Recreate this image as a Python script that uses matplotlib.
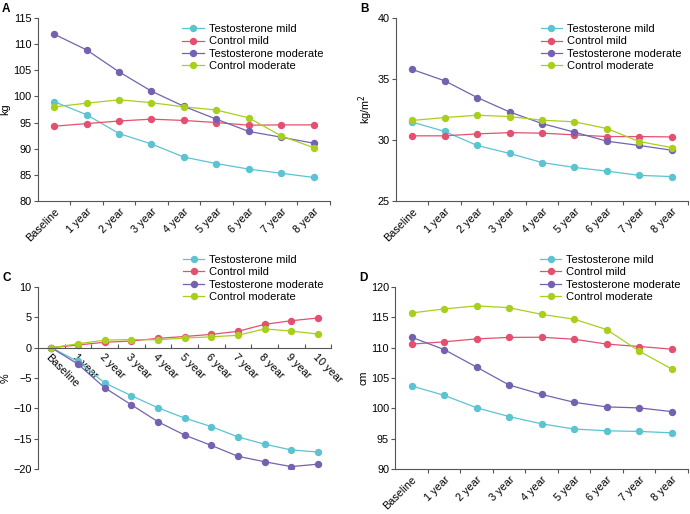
import numpy as np
import matplotlib
matplotlib.use("Agg")
import matplotlib.pyplot as plt

plt.rcParams['font.family'] = ['Liberation Sans', 'DejaVu Sans']

years8 = ["Baseline", "1 year", "2 year", "3 year", "4 year", "5 year", "6 year", "7 year", "8 year"]
years10 = ["Baseline"] + ["%d year" % i for i in range(1, 11)]
series = ["Testosterone mild", "Control mild", "Testosterone moderate", "Control moderate"]
colors = ["#5cc3d2", "#e4506f", "#7462b0", "#a9cf1d"]

# A: weight, kg
a_tmild = [99.0, 96.5, 92.9, 90.9, 88.4, 87.15, 86.1, 85.3, 84.5]
a_cmild = [94.3, 94.8, 95.3, 95.65, 95.4, 95.0, 94.5, 94.55, 94.55]
a_tmod = [111.9, 108.9, 104.7, 101.0, 98.1, 95.65, 93.3, 92.2, 91.05]
a_cmod = [98.0, 98.7, 99.35, 98.8, 98.0, 97.4, 95.9, 92.45, 90.2]

# B: BMI, kg/m2
b_tmild = [31.46, 30.7, 29.55, 28.9, 28.15, 27.75, 27.45, 27.1, 27.0]
b_cmild = [30.34, 30.34, 30.5, 30.6, 30.56, 30.42, 30.28, 30.28, 30.25]
b_tmod = [35.78, 34.85, 33.48, 32.3, 31.35, 30.64, 29.9, 29.55, 29.16]
b_cmod = [31.6, 31.84, 32.03, 31.92, 31.62, 31.49, 30.94, 29.87, 29.38]

# C: change in weight, %
c_tmild = [0, -2.25, -5.8, -7.9, -9.9, -11.6, -13.0, -14.7, -15.9, -16.85, -17.2]
c_cmild = [0, 0.45, 0.9, 1.1, 1.55, 1.85, 2.2, 2.7, 3.85, 4.45, 4.9]
c_tmod = [0, -2.7, -6.6, -9.4, -12.2, -14.4, -16.1, -17.9, -18.8, -19.6, -19.2]
c_cmod = [0, 0.65, 1.25, 1.35, 1.3, 1.6, 1.8, 2.05, 3.1, 2.75, 2.25]

# D: waist, cm
d_tmild = [103.7, 102.15, 100.1, 98.65, 97.45, 96.6, 96.3, 96.2, 95.97]
d_cmild = [110.6, 110.97, 111.46, 111.7, 111.73, 111.4, 110.6, 110.2, 109.77]
d_tmod = [111.73, 109.7, 106.8, 103.85, 102.3, 101.0, 100.24, 100.08, 99.47]
d_cmod = [115.73, 116.4, 116.9, 116.6, 115.5, 114.7, 113.0, 109.44, 106.5]

fs = 7.8
lfs = 8.0
spine_c = "#555555"

fig = plt.figure(figsize=(6.9, 5.14), dpi=100)


def panel(rect, cats, data, ylim, yticks, ylabel, letter, legend_y, zero_axis=False):
    ax = fig.add_axes(rect)
    x = np.arange(len(cats))
    for vals, c, name in zip(data, colors, series):
        ax.plot(x, vals, color=c, lw=0.9, marker='o', ms=4.3, label=name)
    ax.set_xlim(-0.5, len(cats) - 0.5)
    ax.set_ylim(*ylim)
    ax.set_yticks(yticks)
    ax.set_xticks(x)
    ax.set_xticks(np.arange(len(cats)) + 0.5, minor=True)
    ax.spines['top'].set_visible(False)
    ax.spines['right'].set_visible(False)
    for s in ('left', 'bottom'):
        ax.spines[s].set_color(spine_c)
        ax.spines[s].set_linewidth(0.8)
    ax.tick_params(axis='y', labelsize=fs, length=3, width=0.8, color=spine_c, pad=1.5)
    ax.tick_params(axis='x', which='major', length=0, labelsize=fs)
    if zero_axis:
        ax.spines['bottom'].set_position(('data', 0))
        ax.tick_params(axis='x', which='minor', direction='in', length=3, width=0.8, color=spine_c)
        ax.set_xticklabels(cats, rotation=-45, ha='left', va='top', rotation_mode='anchor')
        ax.tick_params(axis='x', which='major', pad=3)
    else:
        ax.tick_params(axis='x', which='minor', direction='out', length=3, width=0.8, color=spine_c)
        ax.set_xticklabels(cats, rotation=45, ha='right', va='top', rotation_mode='anchor')
        ax.tick_params(axis='x', which='major', pad=4)
    ax.set_ylabel(ylabel, fontsize=fs, labelpad=2)
    ax.legend(loc='upper left', bbox_to_anchor=(0.48, legend_y), frameon=False,
              fontsize=lfs, handlelength=1.9, handletextpad=0.45, labelspacing=0.2,
              borderaxespad=0, borderpad=0.4)
    fig.text(rect[0] - 0.052, rect[1] + rect[3] + 0.006, letter, fontsize=8.5,
             fontweight='bold', va='bottom')
    return ax


panel([0.055, 0.609, 0.423, 0.356], years8, [a_tmild, a_cmild, a_tmod, a_cmod],
      (80, 115), range(80, 116, 5), "kg", "A", 0.99)
panel([0.574, 0.609, 0.423, 0.356], years8, [b_tmild, b_cmild, b_tmod, b_cmod],
      (25, 40), range(25, 41, 5), "kg/m$^2$", "B", 0.99)
panel([0.055, 0.0875, 0.425, 0.354], years10, [c_tmild, c_cmild, c_tmod, c_cmod],
      (-20, 10), range(-20, 11, 5), "%", "C", 1.2, zero_axis=True)
panel([0.573, 0.0875, 0.424, 0.354], years8, [d_tmild, d_cmild, d_tmod, d_cmod],
      (90, 120), range(90, 121, 5), "cm", "D", 1.2)

fig.savefig("out.png", dpi=100)
